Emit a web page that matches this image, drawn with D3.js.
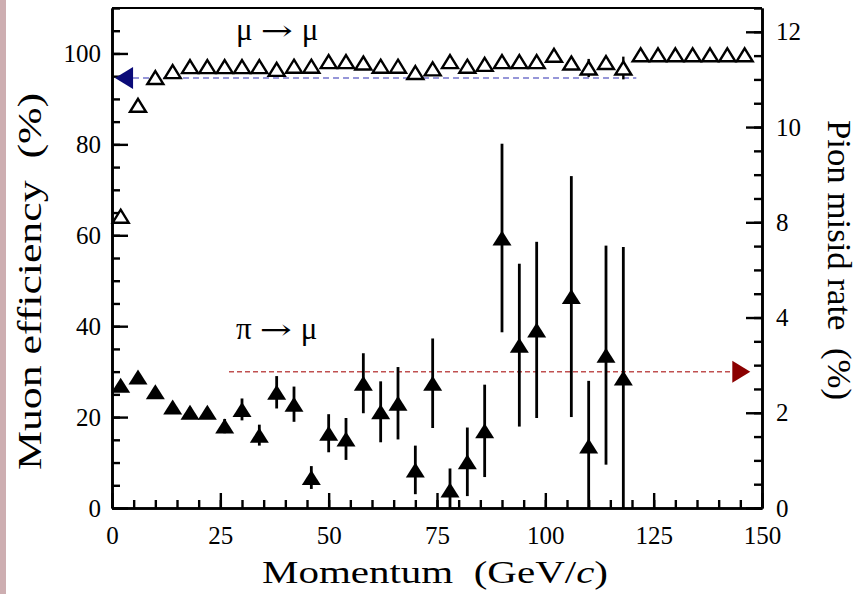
<!DOCTYPE html>
<html><head><meta charset="utf-8">
<script src="https://cdn.jsdelivr.net/npm/d3@7/dist/d3.min.js"></script>
<style>html,body{margin:0;padding:0;background:#fff;}</style>
</head>
<body><svg id="c" width="862" height="594"></svg>
<script>
// ---- data ----
const muMom = [2,6,10,14,18,22,26,30,34,38,42,46,50,54,58,62,66,70,74,78,82,86,90,94,98,102,106,110,114,118,122,126,130,134,138,142,146];
const muEff = [64.2,88.6,94.7,96.0,97.1,97.1,97.1,97.1,97.1,96.5,97.2,97.2,98.2,98.2,97.9,97.2,97.2,95.8,96.6,98.2,97.2,97.6,98.2,98.2,98.2,99.6,97.9,96.8,98.0,96.8,99.7,99.7,99.7,99.7,99.7,99.7,99.7];
const muErr = [0.5,0.5,0.5,0.3,0.3,0.3,0.3,0.3,0.3,0.3,0.3,0.3,0.3,0.3,0.3,0.3,0.3,0.3,0.3,0.3,0.3,0.3,0.3,0.3,0.3,0.3,0.5,2.0,1.0,2.5,0,0,0,0,0,0,0];
const pionMom = [2,6,10,14,18,22,26,30,34,38,42,46,50,54,58,62,66,70,74,78,82,86,90,94,98,106,110,114,118];
const pionRate = [2.58,2.75,2.44,2.12,2.01,2.01,1.72,2.07,1.53,2.43,2.18,0.64,1.57,1.45,2.62,2.02,2.20,0.80,2.62,0.38,0.97,1.62,5.67,3.42,3.74,4.44,1.30,3.21,2.73];
const pionErr = [0.05,0.05,0.08,0.08,0.1,0.1,0.15,0.23,0.22,0.34,0.37,0.24,0.40,0.44,0.63,0.64,0.76,0.51,0.94,0.45,0.72,0.97,1.98,1.71,1.85,2.53,1.37,2.30,2.75];
const muAvg = 94.6, muAvgRange = [0.7, 121];
const pionAvg = 2.86, pionAvgRange = [27, 147.3];
const xTicks = [0,25,50,75,100,125,150];
const leftTicks = [0,20,40,60,80,100];
const rightTicks = [0,2,4,6,8,10];
const rightTickLabels = ["0","2","4","8","10","12"];

// ---- layout ----
const FONT = "Liberation Serif, Times New Roman, serif";
const X0=112, X1=762, Y0=8, Y1=508;
const svg = d3.select("#c");
svg.append("rect").attr("x",0).attr("y",0).attr("width",6).attr("height",594).attr("fill","#cdaeb1");

const x = d3.scaleLinear().domain([0,150]).range([X0,X1]);
const yL = d3.scaleLinear().domain([0,110]).range([Y1,Y0]);
const yR = d3.scaleLinear().domain([0,10.5]).range([Y1,Y0]);

const g = svg.append("g");
function styleAxis(sel){
  sel.attr("font-family",FONT).attr("font-size",25);
  sel.selectAll("path.domain").attr("stroke","#000").attr("stroke-width",2.6);
  sel.selectAll(".tick line").attr("stroke","#000").attr("stroke-width",2.4);
  sel.selectAll(".tick text").attr("font-family",FONT).attr("font-size",25).attr("fill","#000");
}
g.append("line").attr("x1",X0).attr("x2",X1).attr("y1",Y0).attr("y2",Y0).attr("stroke","#000").attr("stroke-width",2.2);

const xa1 = g.append("g").attr("transform",`translate(0,${Y1})`)
  .call(d3.axisBottom(x).tickValues(d3.range(0,151,5)).tickSize(-8).tickFormat("").tickSizeOuter(0));
styleAxis(xa1);
const xa2 = g.append("g").attr("transform",`translate(0,${Y1})`)
  .call(d3.axisBottom(x).tickValues(xTicks).tickSize(-15).tickPadding(18).tickSizeOuter(0));
styleAxis(xa2);
const la1 = g.append("g").attr("transform",`translate(${X0},0)`)
  .call(d3.axisLeft(yL).tickValues(d3.range(0,111,5)).tickSize(-8).tickFormat("").tickSizeOuter(0));
styleAxis(la1);
const la2 = g.append("g").attr("transform",`translate(${X0},0)`)
  .call(d3.axisLeft(yL).tickValues(leftTicks).tickSize(-16).tickPadding(11).tickSizeOuter(0));
styleAxis(la2);
const ra1 = g.append("g").attr("transform",`translate(${X1},0)`)
  .call(d3.axisRight(yR).tickValues(d3.range(0,10.51,0.5)).tickSize(-8).tickFormat("").tickSizeOuter(0));
styleAxis(ra1);
const ra2 = g.append("g").attr("transform",`translate(${X1},0)`)
  .call(d3.axisRight(yR).tickValues(rightTicks).tickSize(-16).tickPadding(14).tickSizeOuter(0)
    .tickFormat((d,i)=>rightTickLabels[i]));
styleAxis(ra2);

// average lines
g.append("line").attr("x1",x(muAvgRange[0])+18).attr("x2",x(muAvgRange[1]))
  .attr("y1",yL(muAvg)).attr("y2",yL(muAvg))
  .attr("stroke","#7474cc").attr("stroke-width",1.6).attr("stroke-dasharray","6,4");
g.append("path").attr("d",()=>{const tx=x(muAvgRange[0]), ty=yL(muAvg);
  return `M${tx},${ty}L${tx+18},${ty-11}L${tx+18},${ty+11}Z`;}).attr("fill","#0a0a78");
g.append("line").attr("x1",x(pionAvgRange[0])).attr("x2",x(pionAvgRange[1])-18)
  .attr("y1",yR(pionAvg)).attr("y2",yR(pionAvg))
  .attr("stroke","#c05050").attr("stroke-width",1.4).attr("stroke-dasharray","5,3");
g.append("path").attr("d",()=>{const tx=x(pionAvgRange[1]), ty=yR(pionAvg);
  return `M${tx},${ty}L${tx-18},${ty-11}L${tx-18},${ty+11}Z`;}).attr("fill","#8b0000");

// muon points
const mu = muMom.map((m,i)=>({m, v:muEff[i], e:muErr[i]}));
g.selectAll(".muerr").data(mu.filter(d=>d.e>0.6)).join("line")
  .attr("x1",d=>x(d.m)).attr("x2",d=>x(d.m)).attr("y1",d=>yL(d.v+d.e)).attr("y2",d=>yL(Math.max(0,d.v-d.e)))
  .attr("stroke","#000").attr("stroke-width",2.4);
g.selectAll(".mu").data(mu).join("path")
  .attr("d",d=>{const cx=x(d.m), cy=yL(d.v); return `M${cx},${cy-6.5}L${cx+8},${cy+6.5}L${cx-8},${cy+6.5}Z`;})
  .attr("fill","#fff").attr("stroke","#000").attr("stroke-width",2.4).attr("stroke-linejoin","miter");

// pion points
const pi = pionMom.map((m,i)=>({m, v:pionRate[i], e:pionErr[i]}));
g.selectAll(".pierr").data(pi).join("line")
  .attr("x1",d=>x(d.m)).attr("x2",d=>x(d.m)).attr("y1",d=>yR(d.v+d.e)).attr("y2",d=>yR(Math.max(0,d.v-d.e)))
  .attr("stroke","#000").attr("stroke-width",2.8);
g.selectAll(".pi").data(pi).join("path")
  .attr("d",d=>{const cx=x(d.m), cy=yR(d.v); return `M${cx},${cy-7.5}L${cx+9.5},${cy+7.5}L${cx-9.5},${cy+7.5}Z`;})
  .attr("fill","#000");

// in-plot labels
function arrowLabel(a, b, xx, yy){
  const t = g.append("text").attr("x",xx).attr("y",yy).attr("font-family",FONT).attr("font-size",31);
  t.append("tspan").text(a);
  t.append("tspan").attr("dx",8).attr("font-family","DejaVu Serif, "+FONT).attr("font-size",27)
    .attr("textLength",32).attr("lengthAdjust","spacingAndGlyphs").text("→");
  t.append("tspan").attr("dx",9).text(b);
}
arrowLabel("μ","μ",236,40);
arrowLabel("π","μ",236,339);

// axis titles
const xt = svg.append("text").attr("x",262).attr("y",583).attr("font-family",FONT).attr("font-size",31)
  .attr("textLength",346).attr("lengthAdjust","spacingAndGlyphs");
xt.append("tspan").text("Momentum\u00a0\u00a0(GeV/");
xt.append("tspan").attr("font-style","italic").text("c");
xt.append("tspan").text(")");
svg.append("text").attr("transform",`translate(41,470) rotate(-90)`).attr("font-family",FONT).attr("font-size",33)
  .attr("textLength",377).attr("lengthAdjust","spacingAndGlyphs").text("Muon efficiency\u00a0\u00a0(%)");
svg.append("text").attr("transform",`translate(828,120) rotate(90)`).attr("font-family",FONT).attr("font-size",33)
  .attr("textLength",280).attr("lengthAdjust","spacingAndGlyphs").text("Pion misid rate\u00a0\u00a0(%)");
</script></body></html>
